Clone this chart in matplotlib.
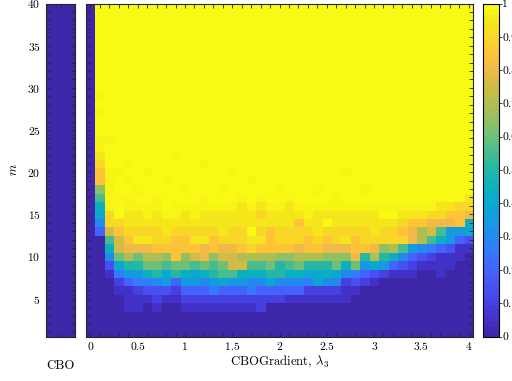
import numpy as np
import matplotlib.pyplot as plt
from matplotlib.colors import LinearSegmentedColormap
from matplotlib.ticker import MultipleLocator, FuncFormatter

plt.rcParams['font.family'] = 'cmr10'
plt.rcParams['mathtext.fontset'] = 'cm'
plt.rcParams['axes.formatter.use_mathtext'] = True

# success rate, one string per lambda_3 column, rows m = 1..40 (bottom to top)
# code: '0'..'K' -> 0.00..1.00 in steps of 0.05, 'y' -> 0.97
lam = np.round(np.arange(0, 4.01, 0.1), 1)
m_vals = np.arange(1, 41)
cols = [
    "0" * 40,
    "000000000000" + "4689BDHHIJ" + "yyKKyKy" + "K" * 11,
    "0000000" + "1369BFII" + "yyyyy" + "KKKy" + "K" * 16,
    "00000" + "1258CFFHI" + "KKyKKy" + "K" * 20,
    "000" + "11147AEGHIJJy" + "yKyKyKKKKKKKKKKKKKKKKKKK",
    "000" + "11257ACGJIJJy" + "KyKKKKKKKKKKKKKKKKKKKKKK",
    "000" + "01359CEGJIJyy" + "KKKyKKKKKKKKKKKKKKKKKKKK",
    "000" + "1236ACEHIIJJy" + "yKKKKKKKKKKKKKKKKKKKKKKK",
    "000" + "01378BDHIJJyK" + "KKyKKKKKKKKKKKKKKKKKKKKK",
    "000" + "0124ACHHHIJyy" + "KKKKKyKKKKKKKKKKKKKKKKKK",
    "000" + "12479CDHHIJJy" + "KyKKKKKKKKKKKKKKKKKKKKKK",
    "000" + "12478BFHJIJyy" + "KKKKKKKKKKKKKKKKKKKKKKKK",
    "000" + "12469CGGJIJJy" + "yKKKyKKKKKKKKKKKKKKKKKKK",
    "000" + "1257ABDHHIJJy" + "KKKKKKKKKKKKKKKKKKKKKKKK",
    "000" + "1248BCFGIJJJy" + "KyKKKKKKKKKKKKKKKKKKKKKK",
    "000" + "1247BFFGIIJJy" + "KKKyKKKKKKKKKKKKKKKKKKKK",
    "000" + "12479FEHIIJJJ" + "yKKKKKKKKKKKKKKKKKKKKKKK",
    "000" + "12569BEIJKJJy" + "KKyKKKKKKKKKKKKKKKKKKKKK",
    "000" + "22469BEHJIJIJ" + "yKKKKKKKKKKKKKKKKKKKKKKK",
    "000" + "0248ACEHHHJJy" + "KKKKKKKKKKKKKKKKKKKKKKKK",
    "000" + "0246AADHIIJJy" + "KyKKKKKKKKKKKKKKKKKKKKKK",
    "000" + "01469BDHIIJJJ" + "yKKKKKKKKKKKKKKKKKKKKKKK",
    "000" + "01469CEGIIHJy" + "KKKKKKKKKKKKKKKKKKKKKKKK",
    "000" + "01258AEHHIJyy" + "KKKKKKKKKKKKKKKKKKKKKKKK",
    "000" + "01288AEHIJJJy" + "KyKKKKKKKKKKKKKKKKKKKKKK",
    "000" + "01269ADGHIKJy" + "KKKKKKKKKKKKKKKKKKKKKKKK",
    "000" + "01268CDGIIJJy" + "yKKKKKKKKKKKKKKKKKKKKKKK",
    "000" + "011269DGJIJJy" + "KKKyKKKKKKKKKKKKKKKKKKKK",
    "000" + "00135CGHHIJJy" + "KKKKKKKKKKKKKKKKKKKKKKKK",
    "000" + "000247AHIIJJy" + "KyKKKKKKKKKKKKKKKKKKKKKK",
    "000" + "000138EGIJJJy" + "KKKKKKKKKKKKKKKKKKKKKKKK",
    "000" + "000027ADIIJKy" + "KKKKKKKKKKKKKKKKKKKKKKKK",
    "000" + "0000149EIIJKy" + "KKKKKKKKKKKKKKKKKKKKKKKK",
    "000" + "0000136BIHIJy" + "KKKKKKKKKKKKKKKKKKKKKKKK",
    "000" + "00001247GGHJy" + "KKKKKKKKKKKKKKKKKKKKKKKK",
    "000" + "00000136EEHJy" + "KKKKKKKKKKKKKKKKKKKKKKKK",
    "000" + "00000125BFGIy" + "KKKKKKKKKKKKKKKKKKKKKKKK",
    "000" + "000011149BGIJ" + "KKKKKKKKKKKKKKKKKKKKKKKK",
    "000" + "0000011377GHJ" + "KKKKKKKKKKKKKKKKKKKKKKKK",
    "000" + "0000001147HHI" + "KKKKKKKKKKKKKKKKKKKKKKKK",
    "000" + "00000001389GI" + "JKKKKKKKKKKKKKKKKKKKKKKK",
]
cbo_rate = np.zeros(40)

KEY = "0123456789ABCDEFGHIJK"


def decode(c):
    return 0.97 if c == 'y' else KEY.index(c) / 20


grad_rate = np.array([[decode(c) for c in s] for s in cols]).T  # (m, lambda)

# parula-like colormap
parula = LinearSegmentedColormap.from_list('parula', [
    (0.00, (0.2422, 0.1504, 0.6603)),
    (0.0625, (0.2691, 0.2094, 0.8249)),
    (0.125, (0.2811, 0.2930, 0.9352)),
    (0.1875, (0.2726, 0.3804, 0.9881)),
    (0.25, (0.2066, 0.4743, 0.9926)),
    (0.3125, (0.1200, 0.5600, 0.9300)),
    (0.375, (0.0500, 0.6400, 0.8500)),
    (0.4375, (0.0300, 0.6900, 0.7600)),
    (0.50, (0.1200, 0.7200, 0.6600)),
    (0.5625, (0.3000, 0.7400, 0.5500)),
    (0.625, (0.5000, 0.7600, 0.4300)),
    (0.6875, (0.6600, 0.7500, 0.3300)),
    (0.75, (0.8000, 0.7400, 0.2700)),
    (0.8125, (0.9500, 0.7270, 0.2850)),
    (0.857, (0.9990, 0.7653, 0.2164)),
    (0.90, (0.9750, 0.8400, 0.1600)),
    (0.95, (0.9590, 0.9000, 0.1100)),
    (1.00, (0.9769, 0.9839, 0.0805)),
], N=64)

W, H = 512, 381
fig = plt.figure(figsize=(W / 100, H / 100), dpi=100)


def px(x0, x1, y0, y1):
    return [x0 / W, 1 - y1 / H, (x1 - x0) / W, (y1 - y0) / H]


ax0 = fig.add_axes(px(46, 75, 3.5, 336.5))
ax1 = fig.add_axes(px(85.7, 473.3, 3.5, 336.5))
cax = fig.add_axes(px(483.3, 499, 3.5, 336.5))

tick_kw = dict(direction='in', top=True, right=True, length=3, width=0.6,
               color='#262626', labelsize=8.3, pad=4)

ax0.imshow(cbo_rate[:, None], origin='lower', aspect='auto', cmap=parula,
           vmin=0, vmax=1, extent=(0.5, 1.5, 0.5, 40.5), interpolation='nearest')
ax0.set_xlim(0.5, 1.5)
ax0.set_ylim(0.5, 40)
ax0.set_xticks([1])
ax0.set_xticklabels([''])
ax0.yaxis.set_major_locator(MultipleLocator(5))
ax0.yaxis.set_minor_locator(MultipleLocator(1))
ax0.tick_params(which='both', **tick_kw)
ax0.set_xlabel('CBO', fontsize=9.2, labelpad=13)
ax0.set_ylabel('$m$', fontsize=9.2, labelpad=5.5)

im = ax1.imshow(grad_rate, origin='lower', aspect='auto', cmap=parula,
                vmin=0, vmax=1, extent=(-0.05, 4.05, 0.5, 40.5),
                interpolation='nearest')
ax1.set_xlim(-0.05, 4.05)
ax1.set_ylim(0.5, 40)
ax1.xaxis.set_major_locator(MultipleLocator(0.5))
ax1.xaxis.set_minor_locator(MultipleLocator(0.1))
ax1.xaxis.set_major_formatter(FuncFormatter(lambda v, p: f'{v:g}'))
ax1.yaxis.set_major_locator(MultipleLocator(5))
ax1.yaxis.set_minor_locator(MultipleLocator(1))
ax1.tick_params(which='both', labelleft=False, **tick_kw)
ax1.set_xlabel(r'CBOGradient, $\lambda_3$', fontsize=9.2, labelpad=1.5)

cb = fig.colorbar(im, cax=cax)
cb.set_ticks(np.round(np.arange(0, 1.01, 0.1), 1))
cb.set_ticklabels([f'{v:g}' for v in np.round(np.arange(0, 1.01, 0.1), 1)])
cb.ax.tick_params(direction='out', length=2, width=0.6, color='#262626',
                  labelsize=8.3, pad=0.5)
cb.outline.set_linewidth(0.8)

for a in (ax0, ax1):
    for s in a.spines.values():
        s.set_linewidth(0.8)
        s.set_color('#262626')

fig.savefig('out.png', dpi=100)
